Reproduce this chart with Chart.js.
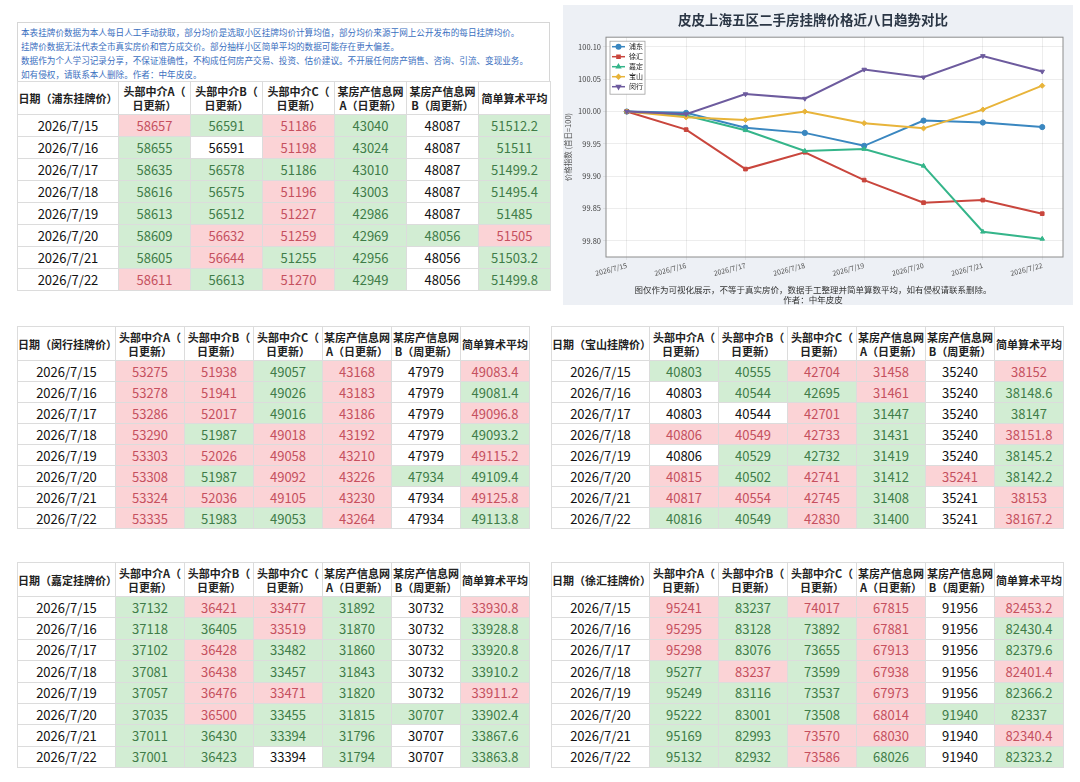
<!DOCTYPE html>
<html>
<head>
<meta charset="utf-8">
<script src="https://cdn.jsdelivr.net/npm/chart.js@4.4.1/dist/chart.umd.min.js"></script>
<style>
body{margin:0;width:1080px;height:782px;background:#fff;font-family:"Noto Sans CJK SC","Noto Sans",sans-serif;position:relative;overflow:hidden}
.note{position:absolute;left:17px;top:22px;width:533px;height:59px;box-sizing:border-box;border:1px solid #d6d6d6;border-bottom:none;color:#3b6fc0;font-size:8.6px;line-height:14px;padding:2px 3px;white-space:nowrap}
table.tb{position:absolute;border-collapse:collapse;table-layout:fixed}
.tb td,.tb th{border:1px solid #dcdcdc;text-align:center;padding:0;white-space:nowrap;overflow:hidden}
.tb th{font-weight:bold;font-size:11px;line-height:14px;color:#222}
.tb td{font-size:13px;color:#111}
.tb td.r{background:#fbd3d6;color:#c5505e}
.tb td.g{background:#d2edd3;color:#3f7c48}
#chartBox{position:absolute;left:563px;top:5px;width:510px;height:300px;background:#edf0f5}
</style>
</head>
<body>
<div class="note">
本表挂牌价数据为本人每日人工手动获取，部分均价是选取小区挂牌均价计算均值，部分均价来源于网上公开发布的每日挂牌均价。<br>
挂牌价数据无法代表全市真实房价和官方成交价。部分抽样小区简单平均的数据可能存在更大偏差。<br>
数据作为个人学习记录分享，不保证准确性，不构成任何房产交易、投资、估价建议。不开展任何房产销售、咨询、引流、变现业务。<br>
如有侵权，请联系本人删除。作者：中年皮皮。
</div>
<div id="chartBox"><canvas id="trendChart" width="510" height="300"></canvas></div>
<script>
const dates = ["2026/7/15", "2026/7/16", "2026/7/17", "2026/7/18", "2026/7/19", "2026/7/20", "2026/7/21", "2026/7/22"];
const headCols = ["头部中介A（<br>日更新）", "头部中介B（<br>日更新）", "头部中介C（<br>日更新）", "某房产信息网<br>A（日更新）", "某房产信息网<br>B（周更新）", "简单算术平均"];

// 每行: 头部中介A, B, C, 信息网A, 信息网B, 平均
const pudongRows = [
    [58657, 56591, 51186, 43040, 48087, 51512.2],
    [58655, 56591, 51198, 43024, 48087, 51511],
    [58635, 56578, 51186, 43010, 48087, 51499.2],
    [58616, 56575, 51196, 43003, 48087, 51495.4],
    [58613, 56512, 51227, 42986, 48087, 51485],
    [58609, 56632, 51259, 42969, 48056, 51505],
    [58605, 56644, 51255, 42956, 48056, 51503.2],
    [58611, 56613, 51270, 42949, 48056, 51499.8]
];
const pudongMarks = ["rgrgwg", "gwrgwg", "ggggwg", "ggrgwg", "ggrgwg", "grrggr", "grggwg", "rgrgwg"];

const minhangRows = [
    [53275, 51938, 49057, 43168, 47979, 49083.4],
    [53278, 51941, 49026, 43183, 47979, 49081.4],
    [53286, 52017, 49016, 43186, 47979, 49096.8],
    [53290, 51987, 49018, 43192, 47979, 49093.2],
    [53303, 52026, 49058, 43210, 47979, 49115.2],
    [53308, 51987, 49092, 43226, 47934, 49109.4],
    [53324, 52036, 49105, 43230, 47934, 49125.8],
    [53335, 51983, 49053, 43264, 47934, 49113.8]
];
const minhangMarks = ["rrgrwr", "rrgrwg", "rrgrwr", "rgrrwg", "rrrrwr", "rgrrgg", "rrrrwr", "rggrwg"];

const baoshanRows = [
    [40803, 40555, 42704, 31458, 35240, 38152],
    [40803, 40544, 42695, 31461, 35240, 38148.6],
    [40803, 40544, 42701, 31447, 35240, 38147],
    [40806, 40549, 42733, 31431, 35240, 38151.8],
    [40806, 40529, 42732, 31419, 35240, 38145.2],
    [40815, 40502, 42741, 31412, 35241, 38142.2],
    [40817, 40554, 42745, 31408, 35241, 38153],
    [40816, 40549, 42830, 31400, 35241, 38167.2]
];
const baoshanMarks = ["ggrrwr", "wggrwg", "wwrgwg", "rrrgwr", "wgggwg", "rgrgrg", "rrrgwr", "ggrgwr"];

const jiadingRows = [
    [37132, 36421, 33477, 31892, 30732, 33930.8],
    [37118, 36405, 33519, 31870, 30732, 33928.8],
    [37102, 36428, 33482, 31860, 30732, 33920.8],
    [37081, 36438, 33457, 31843, 30732, 33910.2],
    [37057, 36476, 33471, 31820, 30732, 33911.2],
    [37035, 36500, 33455, 31815, 30707, 33902.4],
    [37011, 36430, 33394, 31796, 30707, 33867.6],
    [37001, 36423, 33394, 31794, 30707, 33863.8]
];
const jiadingMarks = ["grrgwr", "ggrgwg", "grggwg", "grggwg", "grrgwr", "grgggg", "ggggwg", "ggwgwg"];

const xuhuiRows = [
    [95241, 83237, 74017, 67815, 91956, 82453.2],
    [95295, 83128, 73892, 67881, 91956, 82430.4],
    [95298, 83076, 73655, 67913, 91956, 82379.6],
    [95277, 83237, 73599, 67938, 91956, 82401.4],
    [95249, 83116, 73537, 67973, 91956, 82366.2],
    [95222, 83001, 73508, 68014, 91940, 82337],
    [95169, 82993, 73570, 68030, 91940, 82340.4],
    [95132, 82932, 73586, 68026, 91940, 82323.2]
];
const xuhuiMarks = ["rgrrwr", "rggrwg", "rggrwg", "grgrwr", "gggrwg", "gggrgg", "ggrrwr", "ggrgwg"];

// 图表: 价格指数 (首日=100)
const districts = ["浦东", "徐汇", "嘉定", "宝山", "闵行"];
const pudongIdx = [100, 99.998, 99.975, 99.967, 99.947, 99.986, 99.983, 99.976];
const xuhuiIdx = [100, 99.972, 99.911, 99.937, 99.894, 99.859, 99.863, 99.842];
const jiadingIdx = [100, 99.994, 99.971, 99.939, 99.942, 99.916, 99.814, 99.803];
const baoshanIdx = [100, 99.991, 99.987, 100.000, 99.982, 99.974, 100.003, 100.040];
const minhangIdx = [100, 99.996, 100.027, 100.020, 100.065, 100.053, 100.086, 100.062];

function buildTable(left, top, dateW, colW, headH, rowH, title, rows, marks) {
    const t = document.createElement("table");
    t.className = "tb";
    t.style.left = left + "px";
    t.style.top = top + "px";
    t.style.width = (dateW + colW * headCols.length) + "px";
    let html = '<colgroup><col style="width:' + dateW + 'px">';
    headCols.forEach(() => { html += '<col style="width:' + colW + 'px">'; });
    html += "</colgroup>";
    html += '<tr style="height:' + headH + 'px"><th>' + title + "</th>";
    headCols.forEach(h => { html += "<th>" + h + "</th>"; });
    html += "</tr>";
    rows.forEach((r, i) => {
        html += '<tr style="height:' + rowH + 'px"><td>' + dates[i] + "</td>";
        r.forEach((v, j) => {
            html += '<td class="' + marks[i][j] + '">' + v + "</td>";
        });
        html += "</tr>";
    });
    t.innerHTML = html;
    document.body.appendChild(t);
}

buildTable(17, 81, 101, 72, 33, 22, "日期（浦东挂牌价）", pudongRows, pudongMarks);
buildTable(17, 326, 98, 69, 34, 21, "日期（闵行挂牌价）", minhangRows, minhangMarks);
buildTable(551, 326, 98, 69, 34, 21, "日期（宝山挂牌价）", baoshanRows, baoshanMarks);
buildTable(17, 562, 98, 69, 34, 21.4, "日期（嘉定挂牌价）", jiadingRows, jiadingMarks);
buildTable(551, 562, 98, 69, 34, 21.4, "日期（徐汇挂牌价）", xuhuiRows, xuhuiMarks);

Chart.defaults.font.family = '"Noto Sans CJK SC", "Noto Sans", sans-serif';

const lineColors = ["#3a87c0", "#c9463d", "#35b58a", "#e8b43a", "#6d5b9e"];
const markers = ["circle", "rect", "triangle", "rectRot", "triangle"];
const markerRot = [0, 0, 0, 0, 180];
const seriesList = [pudongIdx, xuhuiIdx, jiadingIdx, baoshanIdx, minhangIdx];

// 白色绘图区和外框
const plotFrame = {
    id: "plotFrame",
    beforeDraw(chart) {
        const a = chart.chartArea;
        chart.ctx.save();
        chart.ctx.fillStyle = "#ffffff";
        chart.ctx.fillRect(a.left, a.top, a.right - a.left, a.bottom - a.top);
        chart.ctx.restore();
    },
    afterDraw(chart) {
        const a = chart.chartArea;
        const ctx = chart.ctx;
        ctx.save();
        ctx.strokeStyle = "#8c8c8c";
        ctx.lineWidth = 1;
        ctx.strokeRect(a.left, a.top, a.right - a.left, a.bottom - a.top);
        ctx.restore();
    }
};

// 图例画在绘图区左上角
const insideLegend = {
    id: "insideLegend",
    afterDraw(chart) {
        const ctx = chart.ctx;
        const a = chart.chartArea;
        const x = a.left + 4, y = a.top + 4;
        const rowH = 10;
        ctx.save();
        ctx.fillStyle = "rgba(255,255,255,0.92)";
        ctx.strokeStyle = "#a0a0a0";
        ctx.lineWidth = 0.8;
        ctx.fillRect(x, y, 35, 53);
        ctx.strokeRect(x, y, 35, 53);
        chart.data.datasets.forEach((ds, i) => {
            const cy = y + 5.5 + rowH * i;
            ctx.strokeStyle = ds.borderColor;
            ctx.fillStyle = ds.borderColor;
            ctx.lineWidth = 1.5;
            ctx.beginPath();
            ctx.moveTo(x + 2, cy);
            ctx.lineTo(x + 15, cy);
            ctx.stroke();
            Chart.helpers.drawPoint(ctx, { pointStyle: ds.pointStyle, radius: 2.2, rotation: ds.pointRotation, borderWidth: 1 }, x + 8.5, cy);
            ctx.fillStyle = "#222";
            ctx.font = '7px "Noto Sans CJK SC"';
            ctx.textBaseline = "middle";
            ctx.fillText(ds.label, x + 19, cy);
        });
        ctx.restore();
    }
};

const ctx = document.getElementById("trendChart").getContext("2d");
let chart = new Chart(ctx, {
    type: "line",
    data: {
        datasets: districts.map((name, i) => ({
            label: name,
            data: seriesList[i].map((v, k) => ({ x: k, y: v })),
            borderColor: lineColors[i],
            backgroundColor: lineColors[i],
            borderWidth: 2,
            pointStyle: markers[i],
            pointRotation: markerRot[i],
            pointRadius: 2.6,
            pointBorderWidth: 1,
            tension: 0,
            order: 5 - i
        }))
    },
    options: {
        responsive: false,
        animation: false,
        layout: { padding: { left: 0, right: 10, top: 0, bottom: 0 } },
        plugins: {
            legend: { display: false },
            tooltip: { enabled: false },
            title: {
                display: true,
                text: "皮皮上海五区二手房挂牌价格近八日趋势对比",
                color: "#2b3645",
                font: { size: 13.5, weight: "bold" },
                padding: { top: 7, bottom: 9 }
            },
            subtitle: {
                display: true,
                position: "bottom",
                text: ["图仅作为可视化展示，不等于真实房价，数据手工整理并简单算数平均，如有侵权请联系删除。", "作者：中年皮皮"],
                color: "#333",
                font: { size: 8.5, lineHeight: 1.1 },
                padding: { top: 5, bottom: 1 }
            }
        },
        scales: {
            x: {
                type: "linear",
                min: -0.35,
                max: 7.35,
                afterFit: s => { s.height = 23.3; },
                grid: { color: "rgba(0,0,0,0.07)", tickLength: 3 },
                border: { display: false },
                ticks: {
                    stepSize: 1,
                    includeBounds: false,
                    autoSkip: false,
                    maxRotation: 15,
                    minRotation: 15,
                    padding: 1,
                    color: "#555",
                    font: { size: 7 },
                    callback: v => dates[v]
                }
            },
            y: {
                min: 99.775,
                max: 100.115,
                afterFit: s => { s.width = 43; },
                grid: { color: "rgba(0,0,0,0.07)", tickLength: 3 },
                border: { display: false },
                title: { display: true, text: "价格指数 (首日=100)", color: "#555", font: { size: 7.5 }, padding: 1 },
                ticks: {
                    stepSize: 0.05,
                    includeBounds: false,
                    padding: 2,
                    color: "#444",
                    font: { size: 7.5 },
                    callback: v => v.toFixed(2)
                }
            }
        }
    },
    plugins: [plotFrame, insideLegend]
});
</script>
</body>
</html>
